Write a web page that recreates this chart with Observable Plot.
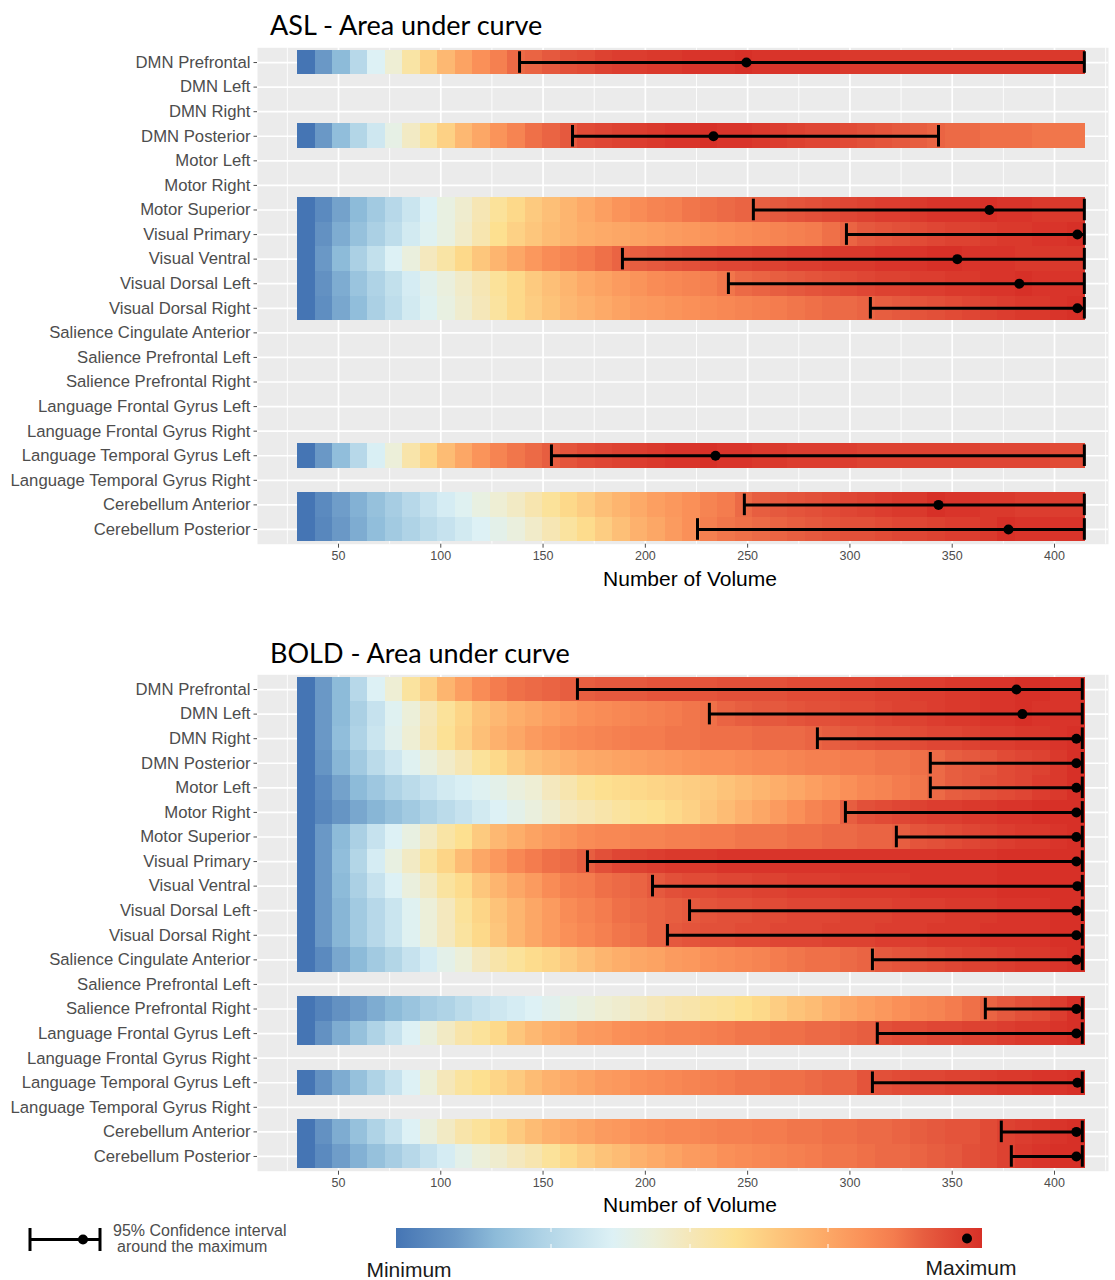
<!DOCTYPE html>
<html><head><meta charset="utf-8">
<script src="https://cdn.jsdelivr.net/npm/d3@7"></script>
<script src="https://cdn.jsdelivr.net/npm/@observablehq/plot@0.6"></script>
<style>
body{margin:0;background:#fff;width:1115px;height:1280px;position:relative;overflow:hidden;font-family:"Liberation Sans",Arial,sans-serif}
.chart{position:absolute;left:0}
.title{position:absolute;left:270px;font-family:Lato,"Open Sans",sans-serif;font-size:27px;line-height:30px;color:#000;white-space:nowrap}
.xlab{position:absolute;left:590px;width:200px;text-align:center;font-size:21px;line-height:24px;color:#000;white-space:nowrap}
.leg{position:absolute;font-size:16px;line-height:18px;color:#4d4d4d;white-space:nowrap}
.mm{position:absolute;width:160px;text-align:center;font-size:21px;line-height:24px;color:#1a1a1a}
</style></head><body>
<div class="title" style="top:10px">ASL - Area under curve</div>
<div class="chart" id="asl" style="top:0px"></div>
<div class="xlab" style="top:567px">Number of Volume</div>
<div class="title" style="top:638px">BOLD - Area under curve</div>
<div class="chart" id="bold" style="top:627px"></div>
<div class="xlab" style="top:1193px">Number of Volume</div>
<svg id="legend" style="position:absolute;left:0;top:1210px" width="1115" height="70"></svg>
<div class="leg" style="left:113px;top:1222px">95% Confidence interval</div>
<div class="leg" style="left:117px;top:1238px">around the maximum</div>
<div class="mm" style="left:329px;top:1258px">Minimum</div>
<div class="mm" style="left:891px;top:1256px">Maximum</div>
<script>
// ---------- data ----------
const regions = ["DMN Prefrontal","DMN Left","DMN Right","DMN Posterior","Motor Left","Motor Right","Motor Superior","Visual Primary","Visual Ventral","Visual Dorsal Left","Visual Dorsal Right","Salience Cingulate Anterior","Salience Prefrontal Left","Salience Prefrontal Right","Language Frontal Gyrus Left","Language Frontal Gyrus Right","Language Temporal Gyrus Left","Language Temporal Gyrus Right","Cerebellum Anterior","Cerebellum Posterior"];
// bin centres (number of volumes) and bin width
const volumes = [34.28,42.83,51.39,59.94,68.5,77.06,85.61,94.17,102.72,111.28,119.83,128.39,136.94,145.5,154.06,162.61,171.17,179.72,188.28,196.83,205.39,213.94,222.5,231.06,239.61,248.17,256.72,265.28,273.83,282.39,290.94,299.5,308.06,316.61,325.17,333.72,342.28,350.83,359.39,367.94,376.5,385.06,393.61,402.17,410.72];
const binWidth = 8.556;
const majorTicks = [50,100,150,200,250,300,350,400];
const minorTicks = [25,75,125,175,225,275,325,375,425];

// normalised area under curve (0 = row minimum, 100 = row maximum) — ASL
const asl_DMN_Prefrontal = [0,10,17,27,37,45,54,62,69,75,80,84,88,89,91,93,94,96,97,97,98,98,99,99,99,100,99,99,99,99,99,98,98,98,98,98,98,98,98,98,98,98,98,98,98];
const asl_DMN_Posterior = [0,10,18,26,33,41,48,55,62,69,74,79,83,87,89,91,94,95,96,97,98,99,99,100,99,99,98,97,96,95,95,94,93,92,91,90,89,88,88,87,87,87,86,86,86];
const asl_Motor_Superior = [0,6,12,17,22,27,32,37,42,46,51,56,60,64,67,70,73,76,79,81,83,84,86,87,88,89,90,91,92,93,94,95,96,97,97,98,99,99,99,100,99,99,98,98,98];
const asl_Visual_Primary = [0,8,14,19,24,29,34,38,42,47,52,58,62,65,68,70,72,73,74,75,76,77,78,79,80,81,82,83,84,85,87,89,91,92,93,94,95,96,96,97,98,98,99,99,100];
const asl_Visual_Ventral = [0,10,17,24,30,37,43,49,54,60,65,70,74,78,81,83,85,87,89,90,91,92,93,94,95,95,96,96,97,97,98,98,98,99,99,99,100,100,99,99,99,98,98,98,98];
const asl_Visual_Dorsal_Left = [0,8,14,20,25,30,35,39,43,47,51,56,60,64,67,70,73,75,77,79,81,82,83,84,86,88,89,90,91,92,93,94,95,96,96,97,97,98,98,99,99,100,99,99,99];
const asl_Visual_Dorsal_Right = [0,7,13,18,24,29,34,38,42,46,50,55,60,63,66,69,71,73,75,77,78,79,80,81,82,83,84,85,86,87,88,88,89,90,91,92,93,94,95,96,97,98,98,99,100];
const asl_Language_Temporal_Gyrus_Left = [0,10,18,27,36,44,53,61,68,74,79,83,86,88,90,92,94,95,96,97,98,99,99,100,99,99,98,98,97,97,97,97,96,96,96,96,96,96,96,95,95,95,95,94,94];
const asl_Cerebellum_Anterior = [0,6,11,15,19,23,27,31,35,38,42,45,48,52,56,60,63,67,70,73,76,78,80,83,85,88,90,91,92,93,94,95,96,97,98,98,100,99,99,98,98,97,97,97,97];
const asl_Cerebellum_Posterior = [0,5,10,14,18,22,25,28,31,34,37,40,43,47,51,55,59,63,67,71,74,77,80,84,86,87,88,89,90,91,92,93,93,94,95,95,96,97,97,98,100,99,99,99,99];

// BOLD
const bold_DMN_Prefrontal = [0,10,17,27,37,45,55,62,70,76,81,85,87,88,89,90,90,91,91,91,92,92,92,92,93,93,93,93,94,94,94,95,95,96,96,97,97,98,98,99,99,100,100,99,99];
const bold_DMN_Left = [0,10,17,24,31,38,44,50,56,61,66,69,72,74,76,78,80,81,82,83,84,85,86,87,89,90,91,91,92,93,93,94,94,95,96,96,97,98,98,99,99,100,99,99,99];
const bold_DMN_Right = [0,10,18,25,32,39,45,51,57,62,67,71,74,77,79,81,82,83,84,85,85,86,86,87,87,87,88,88,88,89,90,91,92,93,93,94,95,95,96,97,97,98,98,99,100];
const bold_DMN_Posterior = [0,9,16,22,28,33,38,43,47,51,56,60,64,67,69,71,73,74,75,76,77,78,79,80,80,81,82,82,83,84,84,85,85,86,86,87,88,90,91,92,94,95,96,98,100];
const bold_Motor_Left = [0,6,12,17,21,25,28,31,34,36,38,40,43,45,49,52,56,58,59,60,61,62,63,64,66,68,70,72,74,76,78,80,82,83,85,86,88,90,91,93,94,95,97,98,100];
const bold_Motor_Right = [0,5,9,13,16,19,22,25,28,31,34,37,40,43,46,49,51,53,55,57,58,60,62,65,68,71,74,77,80,83,85,90,93,94,95,96,97,97,98,98,99,99,100,100,100];
const bold_Motor_Superior = [0,10,17,24,31,37,42,48,54,58,64,69,72,75,77,79,81,82,82,83,83,84,84,85,85,86,86,86,87,87,88,88,89,89,90,92,93,94,95,96,97,98,98,99,100];
const bold_Visual_Primary = [0,10,18,26,35,42,48,55,61,68,74,78,82,85,87,88,90,93,95,96,97,98,98,98,99,99,99,99,99,99,99,99,99,99,99,99,99,99,99,99,100,100,100,100,100];
const bold_Visual_Ventral = [0,10,17,24,31,37,43,48,55,59,65,70,74,77,81,84,85,87,88,89,91,93,94,94,95,95,96,96,97,97,97,98,98,98,98,99,99,99,99,99,100,100,100,100,100];
const bold_Visual_Dorsal_Left = [0,10,16,22,27,32,38,44,49,56,61,66,70,74,77,81,83,85,87,88,89,90,91,92,93,93,94,94,95,95,95,96,96,96,97,97,97,98,98,98,99,99,99,100,100];
const bold_Visual_Dorsal_Right = [0,10,16,22,27,32,38,44,49,55,60,65,70,74,77,80,82,84,86,87,89,91,92,93,93,94,94,95,95,95,96,96,96,97,97,97,98,98,98,99,99,99,99,100,100];
const bold_Salience_Cingulate_Anterior = [0,6,13,17,22,26,31,35,40,44,49,53,56,59,61,64,67,70,72,74,75,77,78,80,81,82,83,85,86,87,87,88,89,91,92,93,94,95,96,96,97,98,98,99,100];
const bold_Salience_Prefrontal_Right = [0,4,8,11,14,17,20,23,25,28,31,33,35,37,39,41,43,45,46,48,50,52,53,55,56,58,60,63,66,68,71,74,76,78,80,82,83,85,87,89,91,93,94,97,100];
const bold_Language_Frontal_Gyrus_Left = [0,8,14,19,25,31,37,43,48,53,56,60,65,69,72,74,77,78,80,81,82,83,83,84,85,86,86,87,87,88,88,89,90,93,94,94,95,95,96,96,97,98,98,99,100];
const bold_Language_Temporal_Gyrus_Left = [0,8,14,19,25,31,37,44,50,55,58,61,64,68,71,73,75,77,78,80,81,82,83,84,85,86,86,87,87,88,89,89,92,93,94,95,95,96,96,97,98,98,99,99,100];
const bold_Cerebellum_Anterior = [0,8,14,19,25,31,37,43,48,53,56,60,64,68,71,73,75,77,78,80,81,82,82,83,84,84,85,85,86,86,87,87,88,88,89,90,91,92,92,94,96,97,98,99,100];
const bold_Cerebellum_Posterior = [0,6,11,15,19,23,27,31,35,40,44,46,49,52,56,60,63,66,68,71,73,75,77,78,80,81,82,83,84,85,86,86,87,88,88,89,90,91,93,94,96,98,99,100,100];

// 95% CI around the maximum
const aslCIRegion = ["DMN Prefrontal","DMN Posterior","Motor Superior","Visual Primary","Visual Ventral","Visual Dorsal Left","Visual Dorsal Right","Language Temporal Gyrus Left","Cerebellum Anterior","Cerebellum Posterior"];
const aslLower = [138.5,164.4,252.8,298.3,188.8,240.6,310,154.1,248.4,225.5];
const aslMax   = [249.4,233.3,368.2,411.2,352.5,382.8,411.2,234.3,343.3,377.5];
const aslUpper = [414.6,343.3,414.6,414.6,414.6,414.6,414.6,414.6,414.6,414.6];

const boldCIRegion = ["DMN Prefrontal","DMN Left","DMN Right","DMN Posterior","Motor Left","Motor Right","Motor Superior","Visual Primary","Visual Ventral","Visual Dorsal Left","Visual Dorsal Right","Salience Cingulate Anterior","Salience Prefrontal Right","Language Frontal Gyrus Left","Language Temporal Gyrus Left","Cerebellum Anterior","Cerebellum Posterior"];
const boldLower = [166.8,231.3,284.1,339.3,339.3,297.8,322.7,171.7,203.5,221.6,210.8,311,366.2,313.4,311,374,378.9];
const boldMax   = [381.4,384.3,410.7,410.7,410.7,410.7,410.7,410.7,411.2,410.7,410.7,410.7,410.7,410.7,411.2,410.7,410.7];
const boldUpper = [413.6,413.6,413.6,413.6,413.6,413.6,413.6,413.6,413.6,413.6,413.6,413.6,413.6,413.6,413.6,413.6,413.6];

// colour ramp (RdYlBu, blue = minimum, red = maximum)
const rampStops  = [0,10,17,25,37,44,50,58,65,72,80,85,90,95,100];
const rampColors = ["#4575b4","#6a98c6","#8dbbd9","#afd3e6","#ddf1f5","#ecefd9","#f5e7b9","#fde090","#fdc67c","#fdae6a","#fa9058","#f47c4e","#e75e40","#df4634","#d73027"];

// ---------- build ----------
const colorRamp = d3.scaleLinear().domain(rampStops).range(rampColors).clamp(true);

const aslSeries = [
  ["DMN Prefrontal", asl_DMN_Prefrontal], ["DMN Posterior", asl_DMN_Posterior],
  ["Motor Superior", asl_Motor_Superior], ["Visual Primary", asl_Visual_Primary],
  ["Visual Ventral", asl_Visual_Ventral], ["Visual Dorsal Left", asl_Visual_Dorsal_Left],
  ["Visual Dorsal Right", asl_Visual_Dorsal_Right], ["Language Temporal Gyrus Left", asl_Language_Temporal_Gyrus_Left],
  ["Cerebellum Anterior", asl_Cerebellum_Anterior], ["Cerebellum Posterior", asl_Cerebellum_Posterior]
];
const boldSeries = [
  ["DMN Prefrontal", bold_DMN_Prefrontal], ["DMN Left", bold_DMN_Left], ["DMN Right", bold_DMN_Right],
  ["DMN Posterior", bold_DMN_Posterior], ["Motor Left", bold_Motor_Left], ["Motor Right", bold_Motor_Right],
  ["Motor Superior", bold_Motor_Superior], ["Visual Primary", bold_Visual_Primary], ["Visual Ventral", bold_Visual_Ventral],
  ["Visual Dorsal Left", bold_Visual_Dorsal_Left], ["Visual Dorsal Right", bold_Visual_Dorsal_Right],
  ["Salience Cingulate Anterior", bold_Salience_Cingulate_Anterior], ["Salience Prefrontal Right", bold_Salience_Prefrontal_Right],
  ["Language Frontal Gyrus Left", bold_Language_Frontal_Gyrus_Left], ["Language Temporal Gyrus Left", bold_Language_Temporal_Gyrus_Left],
  ["Cerebellum Anterior", bold_Cerebellum_Anterior], ["Cerebellum Posterior", bold_Cerebellum_Posterior]
];

function panel(series, ciRegion, lower, maxv, upper) {
  const cells = [];
  for (const [name, vals] of series) vals.forEach((t, i) => cells.push({region: name, v: volumes[i], t}));
  const ci = ciRegion.map((r, i) => ({region: r, lo: lower[i], mx: maxv[i], hi: upper[i]}));
  return Plot.plot({
    width: 1115, height: 600,
    marginLeft: 257, marginRight: 7, marginTop: 47.3, marginBottom: 56.3,
    x: {domain: [10.41, 426.4]},
    y: {domain: regions, padding: 0, round: false, insetTop: 2.45, insetBottom: 2.45},
    color: {type: "linear", domain: [0, 100], interpolate: () => (t => colorRamp(t * 100))},
    style: {fontFamily: '"Liberation Sans", Arial, sans-serif', background: "transparent", overflow: "visible"},
    marks: [
      Plot.frame({fill: "#ebebeb", stroke: "none"}),
      Plot.ruleX(minorTicks, {stroke: "#ffffff", strokeWidth: 0.9}),
      Plot.ruleX(majorTicks, {stroke: "#ffffff", strokeWidth: 1.7}),
      Plot.ruleY(regions, {stroke: "#ffffff", strokeWidth: 1.7}),
      Plot.barX(cells, {x1: d => d.v - binWidth / 2, x2: d => d.v + binWidth / 2, y: "region", fill: "t", shapeRendering: "crispEdges"}),
      Plot.ruleY(ci, {y: "region", x1: "lo", x2: "hi", stroke: "#000", strokeWidth: 3}),
      Plot.tickX(ci, {x: "lo", y: "region", stroke: "#000", strokeWidth: 3, insetTop: 1.5, insetBottom: 1.5}),
      Plot.tickX(ci, {x: "hi", y: "region", stroke: "#000", strokeWidth: 3, insetTop: 1.5, insetBottom: 1.5}),
      Plot.dot(ci, {x: "mx", y: "region", r: 5, fill: "#000", stroke: "none"}),
      Plot.axisX({ticks: majorTicks, tickSize: 4, tickPadding: 3, fontSize: 12.5, label: null, color: "#4d4d4d"}),
      Plot.axisY({tickSize: 3.5, tickPadding: 3.5, fontSize: 16.7, label: null, color: "#4d4d4d"})
    ]
  });
}

document.getElementById("asl").append(panel(aslSeries, aslCIRegion, aslLower, aslMax, aslUpper));
document.getElementById("bold").append(panel(boldSeries, boldCIRegion, boldLower, boldMax, boldUpper));

// ---------- legend ----------
const svg = d3.select("#legend");
const grad = svg.append("defs").append("linearGradient").attr("id", "ramp");
rampStops.forEach((s, i) => grad.append("stop").attr("offset", s + "%").attr("stop-color", rampColors[i]));
const oy = 1210;
// error bar key
svg.append("line").attr("x1", 30).attr("x2", 100).attr("y1", 1239.5 - oy).attr("y2", 1239.5 - oy).attr("stroke", "#000").attr("stroke-width", 3);
[30, 100].forEach(x => svg.append("line").attr("x1", x).attr("x2", x).attr("y1", 1228 - oy).attr("y2", 1251 - oy).attr("stroke", "#000").attr("stroke-width", 3));
svg.append("circle").attr("cx", 83).attr("cy", 1239.5 - oy).attr("r", 5).attr("fill", "#000");
// colour bar
svg.append("rect").attr("x", 396).attr("y", 1228 - oy).attr("width", 586).attr("height", 20).attr("fill", "url(#ramp)");
[551, 690, 828].forEach(x => {
  svg.append("line").attr("x1", x).attr("x2", x).attr("y1", 1228 - oy).attr("y2", 1232 - oy).attr("stroke", "#fff").attr("stroke-width", 1);
  svg.append("line").attr("x1", x).attr("x2", x).attr("y1", 1244 - oy).attr("y2", 1248 - oy).attr("stroke", "#fff").attr("stroke-width", 1);
});
svg.append("circle").attr("cx", 967).attr("cy", 1238.5 - oy).attr("r", 5).attr("fill", "#000");
</script>
</body></html>
